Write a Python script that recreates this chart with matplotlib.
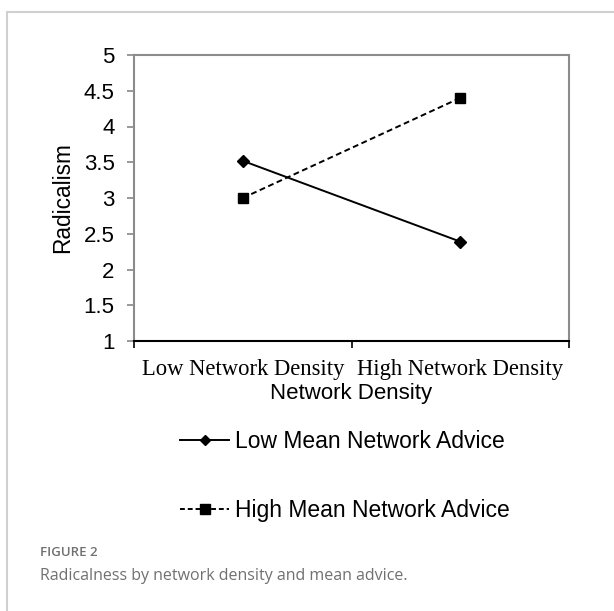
import matplotlib.pyplot as plt
from matplotlib.patches import Rectangle
from matplotlib.lines import Line2D

# データ
categories = ['Low Network Density', 'High Network Density']
low_advice = [3.52, 2.39]
high_advice = [3.0, 4.4]
series_names = ['Low Mean Network Advice', 'High Mean Network Advice']
y_ticks = [1, 1.5, 2, 2.5, 3, 3.5, 4, 4.5, 5]

W, H = 614, 611
fig = plt.figure(figsize=(W / 100, H / 100), dpi=100)

# 外枠（薄いグレー）
fig.patches.append(Rectangle((7 / W, -0.1), 1.2, 1 - 12 / H + 0.1,
                             transform=fig.transFigure, fill=False,
                             edgecolor='#d0d0d0', linewidth=1.5))

ax = fig.add_axes([134 / W, 1 - 341 / H, (569 - 134) / W, (341 - 55) / H])

x = list(range(len(categories)))
ax.plot(x, low_advice, color='black', lw=1.4, marker='D', markersize=6)
ax.plot(x, high_advice, color='black', lw=1.4, ls=(0, (3, 1.8)),
        marker='s', markersize=7.5)

ax.set_xlim(-0.5, 1.5)
ax.set_ylim(1, 5)
ax.set_yticks(y_ticks)
ax.set_yticklabels([f'{v:g}' for v in y_ticks], fontsize=16,
                   family='Liberation Sans')
ax.set_xticks(x)
ax.set_xticklabels(categories, fontsize=16.3, family='Liberation Serif')
ax.set_xticks([-0.5, 0.5, 1.5], minor=True)
ax.tick_params(axis='x', which='major', length=0, pad=13)
ax.tick_params(axis='x', which='minor', length=5, color='black', width=1.2)
ax.tick_params(axis='y', length=5, color='#888888', width=1.2, pad=9)

for side in ['top', 'right', 'left']:
    ax.spines[side].set_color('#8c8c8c')
    ax.spines[side].set_linewidth(1.5)
ax.spines['bottom'].set_color('black')
ax.spines['bottom'].set_linewidth(1.5)

ax.set_ylabel('Radicalism', fontsize=16.3, family='Liberation Sans')
ax.yaxis.set_label_coords(-0.138, 0.5)
fig.text(351 / W, 1 - 393 / H, 'Network Density', fontsize=16,
         family='Liberation Sans', ha='center', va='center')

# 凡例
handles = [
    Line2D([], [], color='black', lw=1.4, marker='D', markersize=5),
    Line2D([], [], color='black', lw=1.4, ls=(0, (2.5, 1.5)), marker='s', markersize=6.5),
]
fig.legend(handles, series_names, loc='upper left',
           bbox_to_anchor=(180 / W, 1 - 430 / H), frameon=False,
           prop={'family': 'Liberation Sans', 'size': 16.5},
           handlelength=2.15, handletextpad=0.26, labelspacing=2.0,
           borderaxespad=0, borderpad=0)

# キャプション
fig.text(40 / W, 1 - 553 / H, 'FIGURE 2', fontsize=9.5, color='#707070',
         family='Open Sans', weight='semibold', va='center')
fig.text(40 / W, 1 - 576 / H, 'Radicalness by network density and mean advice.',
         fontsize=11.5, color='#707070', family='Open Sans', va='center')

fig.savefig('out.png', dpi=100, facecolor='white')
